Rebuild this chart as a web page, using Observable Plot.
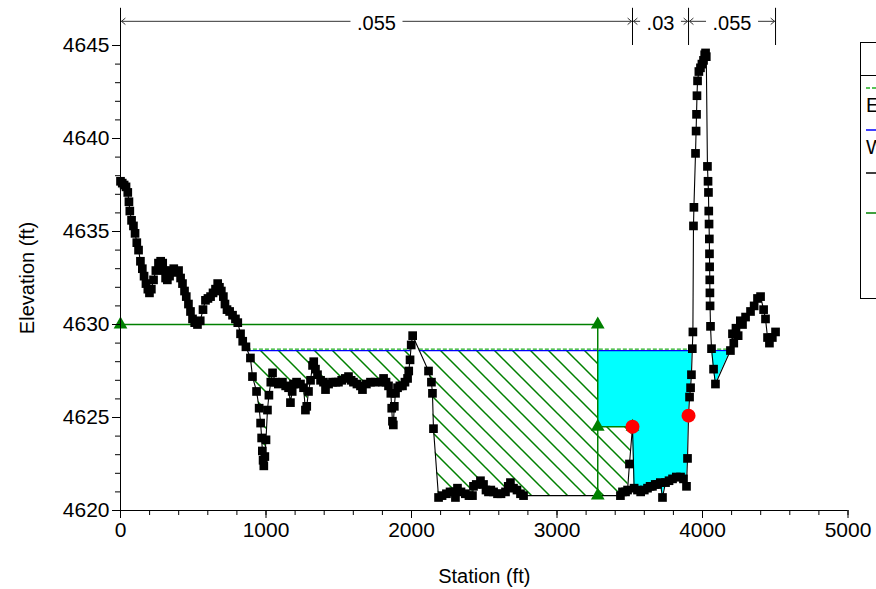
<!DOCTYPE html>
<html><head><meta charset="utf-8">
<script src="https://cdn.jsdelivr.net/npm/d3@7"></script>
<script src="https://cdn.jsdelivr.net/npm/@observablehq/plot@0.6"></script>
<style>
html,body{margin:0;padding:0;background:#fff;overflow:hidden;width:876px;height:589px}
#wrap{position:relative;width:876px;height:589px}
#legend{position:absolute;left:860px;top:0;width:16px;height:589px;overflow:hidden}
</style></head><body><div id="wrap"></div>
<script>
// Ground profile (station ft, elevation ft)
const groundStation = [0,12,25,38,50,58,64,76,89,100,112,124,137,150,162,175,188,199,212,227,243,261,276,290,300,310,322,337,352,366,382,399,413,426,440,452,467,481,495,510,529,548,567,584,601,619,636,653,668,680,693,707,718,732,750,770,790,806,825,840,862,893,907,935,953,963,970,975,980,985,992,1000,1010,1020,1033,1045,1065,1085,1113,1135,1155,1168,1180,1189,1210,1237,1258,1271,1280,1292,1306,1320,1328,1340,1354,1375,1395,1409,1430,1457,1480,1498,1520,1545,1567,1585,1601,1625,1649,1663,1690,1718,1750,1801,1808,1825,1842,1858,1864,1869,1875,1882,1890,1904,1920,1938,1955,1973,1981,1990,1998,2008,2117,2137,2144,2151,2186,2210,2240,2265,2289,2302,2316,2340,2370,2395,2419,2426,2445,2474,2495,2512,2529,2545,2564,2591,2615,2646,2665,2680,2701,2725,2749,2770,3436,3450,3471,3485,3498,3519,3530,3553,3575,3600,3622,3640,3656,3675,3691,3710,3725,3746,3770,3794,3820,3849,3869,3890,3897,3904,3911,3918,3924,3930,3934,3938,3941,3952,3956,3959,3962,3966,3975,3986,3996,4007,4015,4021,4026,4034,4038,4041,4043,4045,4047,4048,4049,4050,4051,4052,4055,4062,4076,4089,4192,4206,4215,4230,4245,4260,4275,4296,4330,4355,4378,4399,4420,4433,4447,4460,4480,4502];
const groundElev = [4637.7,4637.6,4637.5,4637.4,4637.1,4636.6,4636.1,4635.6,4635.3,4634.9,4634.4,4634.0,4633.4,4633.0,4632.6,4632.2,4631.9,4631.7,4631.9,4632.4,4632.9,4633.3,4633.4,4633.3,4632.9,4632.5,4632.4,4632.6,4632.9,4633.0,4632.8,4632.9,4632.5,4632.2,4631.8,4631.5,4631.1,4630.7,4630.3,4630.1,4630.0,4630.2,4630.8,4631.3,4631.4,4631.5,4631.7,4631.9,4632.2,4632.0,4631.8,4631.5,4631.1,4630.8,4630.7,4630.5,4630.3,4630.1,4629.5,4629.1,4628.8,4628.2,4627.2,4626.4,4625.5,4624.7,4623.9,4623.2,4622.7,4622.4,4622.9,4623.8,4625.4,4626.2,4626.9,4627.4,4626.9,4626.8,4626.9,4626.7,4626.6,4625.8,4626.4,4626.8,4626.9,4626.8,4626.6,4625.4,4625.6,4626.4,4627.0,4627.8,4628.0,4627.6,4627.3,4627.0,4626.9,4626.5,4626.8,4626.9,4626.9,4626.9,4627.0,4627.1,4627.2,4627.0,4626.9,4626.8,4626.7,4626.5,4626.8,4626.9,4626.9,4626.9,4627.1,4626.9,4626.7,4626.3,4625.5,4624.8,4624.6,4625.6,4626.3,4626.6,4626.7,4626.7,4626.9,4627.1,4627.5,4628.1,4628.9,4629.4,4627.5,4626.9,4626.3,4624.4,4620.7,4620.8,4620.9,4621.0,4621.0,4620.7,4621.2,4621.0,4620.9,4620.8,4620.8,4621.3,4621.4,4621.6,4621.4,4621.1,4621.0,4621.1,4621.0,4620.9,4620.9,4621.0,4621.3,4621.5,4621.2,4621.1,4620.9,4620.8,4620.8,4621.0,4621.0,4621.1,4622.5,4624.5,4621.2,4621.1,4621.0,4621.1,4621.2,4621.3,4621.3,4621.4,4621.4,4621.5,4620.7,4621.5,4621.6,4621.7,4621.8,4621.8,4621.7,4621.3,4622.8,4625.1,4626.1,4626.6,4627.3,4628.7,4629.6,4635.3,4636.3,4639.2,4640.4,4641.3,4642.3,4643.1,4643.6,4643.8,4644.0,4644.2,4644.5,4644.6,4644.4,4638.5,4637.7,4637.1,4636.1,4635.4,4634.6,4633.8,4633.1,4632.4,4631.7,4631.0,4629.9,4628.7,4627.6,4626.8,4628.6,4629.5,4629.0,4629.8,4629.4,4630.2,4630.0,4630.4,4630.7,4631.0,4631.4,4631.5,4630.8,4630.3,4629.3,4629.0,4629.3,4629.6];

// Water surface and energy grade
const wsElev = 4628.6;
const egElev = 4628.68;

// Bank stations
const bankStation = [3519, 3904];
const bankElev = [4624.5, 4625.1];

// Ineffective flow areas
const ineffStart = [0, 3280];
const ineffEnd = [3280, 3519];
const ineffElev = [4630, 4624.5];

// Manning's n
const nBreaks = [0, 3519, 3904, 4502];
const nValues = [".055", ".03", ".055"];
const nTopElev = 4647;
const nArrowElev = 4646.3;

// Ticks
const xMajor = [0, 1000, 2000, 3000, 4000, 5000];
const xMinor = d3.range(0, 5001, 200);
const yMajor = [4620, 4625, 4630, 4635, 4640, 4645];
const yMinor = d3.range(4620, 4646, 1);

const ground = groundStation.map((s, i) => ({x: s, y: groundElev[i]}));
function g(x) {
  for (let i = 1; i < groundStation.length; i++) {
    if (groundStation[i] >= x) {
      const x0 = groundStation[i-1], x1 = groundStation[i];
      const t = (x - x0) / (x1 - x0);
      return groundElev[i-1] + t * (groundElev[i] - groundElev[i-1]);
    }
  }
  return groundElev[groundElev.length - 1];
}
// wet bands between top and bottom functions over [a,b]
function bands(a, b, topFn, botFn) {
  const xs = [a, ...groundStation.filter(s => s > a && s < b), b];
  const pts = [];
  for (let i = 0; i < xs.length; i++) {
    const x = xs[i], d = topFn(x) - botFn(x);
    if (i > 0) {
      const xp = xs[i-1], dp = topFn(xp) - botFn(xp);
      if ((dp > 0 && d < 0) || (dp < 0 && d > 0)) {
        pts.push({x: xp + (x - xp) * dp / (dp - d), d: 0});
      }
    }
    pts.push({x, d});
  }
  const segs = []; let cur = [];
  for (const p of pts) {
    if (p.d > 1e-9) cur.push(p);
    else {
      const cross = p.d >= -1e-9;
      if (cross) cur.push(p);
      if (cur.length > 1) segs.push(cur);
      cur = cross ? [p] : [];
    }
  }
  if (cur.length > 1) segs.push(cur);
  const rows = [];
  segs.forEach((s, k) => s.forEach(p => rows.push({x: p.x, y2: topFn(p.x), y1: topFn(p.x) - Math.max(0, p.d), seg: k})));
  return {rows, segs: segs.map(s => ({x1: s[0].x, x2: s[s.length-1].x}))};
}
const ws = () => wsElev;
const hatchA = bands(0, ineffEnd[0], ws, g).rows;
const hatchB = bands(ineffStart[1], ineffEnd[1], () => ineffElev[1], g).rows;
const cyan = bands(ineffStart[1], nBreaks[3], ws, x => x <= ineffEnd[1] ? Math.max(g(x), ineffElev[1]) : g(x)).rows;
const wetSegs = bands(0, nBreaks[3], ws, g).segs;

const gAt = g(ineffEnd[0]);
const ineffLines = [
  {x1: ineffStart[0], y1: ineffElev[0], x2: ineffEnd[0], y2: ineffElev[0]},
  {x1: ineffEnd[0], y1: ineffElev[0], x2: ineffEnd[0], y2: gAt},
  {x1: ineffStart[1], y1: ineffElev[1], x2: ineffEnd[1], y2: ineffElev[1]}
];
const ineffPts = [
  {x: ineffStart[0], y: ineffElev[0]}, {x: ineffEnd[0], y: ineffElev[0]},
  {x: ineffStart[1], y: ineffElev[1]}, {x: ineffEnd[1], y: ineffElev[1]},
  {x: ineffEnd[0], y: gAt}
];
const banks = bankStation.map((s, i) => ({x: s, y: bankElev[i]}));
const nSpans = nValues.map((v, i) => ({a: nBreaks[i], b: nBreaks[i+1], m: (nBreaks[i] + nBreaks[i+1]) / 2, v}));
const arrowMarks = nSpans.flatMap(s => {
  const half = s.v.length * 5.6 + 4;
  return [
    Plot.arrow([s], {x1: "m", x2: "a", y1: () => nArrowElev, y2: () => nArrowElev, insetStart: half, insetEnd: 1, headLength: 7, headAngle: 80, stroke: "#333", strokeWidth: 1}),
    Plot.arrow([s], {x1: "m", x2: "b", y1: () => nArrowElev, y2: () => nArrowElev, insetStart: half, insetEnd: 1, headLength: 7, headAngle: 80, stroke: "#333", strokeWidth: 1})
  ];
});

const fmt = d => String(d);
const chart = Plot.plot({
  width: 876, height: 589,
  marginLeft: 120, marginRight: 28.5, marginTop: 45, marginBottom: 79,
  x: {domain: [0, 5000], label: null},
  y: {domain: [4620, 4645], label: null},
  style: {fontFamily: "'Liberation Sans', Arial, sans-serif", fontSize: "20px", color: "#000", background: "#fff", overflow: "visible"},
  marks: [
    Plot.areaY(hatchA, {x: "x", y1: "y1", y2: "y2", z: "seg", fill: "url(#hatch)"}),
    Plot.areaY(hatchB, {x: "x", y1: "y1", y2: "y2", z: "seg", fill: "url(#hatch)"}),
    Plot.areaY(cyan, {x: "x", y1: "y1", y2: "y2", z: "seg", fill: "#00ffff"}),
    Plot.ruleY(wetSegs, {x1: "x1", x2: "x2", y: () => wsElev, stroke: "#0000ff", strokeWidth: 1.2}),
    Plot.ruleY(wetSegs, {x1: "x1", x2: "x2", y: () => egElev, stroke: "#22b022", strokeWidth: 1.2, strokeDasharray: "4,2"}),
    Plot.link(ineffLines, {x1: "x1", y1: "y1", x2: "x2", y2: "y2", stroke: "#008000", strokeWidth: 1.5}),
    Plot.line(ground, {x: "x", y: "y", stroke: "#000", strokeWidth: 1.1}),
    Plot.dot(ground, {x: "x", y: "y", symbol: "square", r: 4.9, fill: "#000"}),
    Plot.dot(ineffPts, {x: "x", y: "y", symbol: "triangle", r: 5.1, fill: "#008000"}),
    Plot.dot(banks, {x: "x", y: "y", r: 7, fill: "#ff0000"}),
    Plot.ruleY([4620], {stroke: "#000"}),
    Plot.ruleX([0], {stroke: "#000"}),
    Plot.ruleX(nBreaks, {x: d => d, y1: () => 4645, y2: () => nTopElev, stroke: "#000"}),
    ...arrowMarks,
    Plot.text(nSpans, {x: "m", y: () => nArrowElev, text: "v", fontSize: 20, dy: 2}),
    Plot.axisX(xMinor, {tickSize: 5, tickFormat: () => "", fill: "none"}),
    Plot.axisX(xMajor, {tickSize: 8, tickPadding: 4, tickFormat: fmt, fontSize: 21, label: null}),
    Plot.axisY(yMinor, {tickSize: 5, tickFormat: () => "", fill: "none"}),
    Plot.axisY(yMajor, {tickSize: 8, tickPadding: 3, tickFormat: fmt, fontSize: 21, label: null}),
    Plot.text(["Elevation (ft)"], {frameAnchor: "left", dx: -93, rotate: -90, textAnchor: "middle", lineAnchor: "middle", fontSize: 20}),
    Plot.text(["Station (ft)"], {frameAnchor: "bottom", dy: 66, textAnchor: "middle", lineAnchor: "middle", fontSize: 20})
  ]
});
const defs = d3.select(chart).insert("defs", ":first-child");
const pat = defs.append("pattern").attr("id", "hatch").attr("patternUnits", "userSpaceOnUse").attr("width", 18).attr("height", 18);
pat.append("path").attr("d", "M0,0L18,18M-9,9L9,27M9,-9L27,9").attr("stroke", "#008000").attr("stroke-width", 1.5).attr("fill", "none");
document.getElementById("wrap").appendChild(chart);

// Legend (clipped at the right edge, as in the original)
const legendItems = [
  {label: "EG PF 1", stroke: "#22b022", dash: "4,2", y: 88},
  {label: "WS PF 1", stroke: "#0000ff", dash: null, y: 130},
  {label: "Ground", stroke: "#000", dash: null, y: 173},
  {label: "Ineff", stroke: "#008000", dash: null, y: 213}
];
const lg = d3.select("#wrap").append("svg").attr("id", "legend").attr("width", 16).attr("height", 589)
  .style("font-family", "'Liberation Sans', Arial, sans-serif").style("font-size", "20px");
lg.append("rect").attr("x", 0.5).attr("y", 42.5).attr("width", 200).attr("height", 256).attr("fill", "#fff").attr("stroke", "#000");
lg.append("line").attr("x1", 0).attr("x2", 200).attr("y1", 75.5).attr("y2", 75.5).attr("stroke", "#000");
legendItems.forEach((d, i) => {
  lg.append("line").attr("x1", 6).attr("x2", 40).attr("y1", d.y).attr("y2", d.y).attr("stroke", d.stroke).attr("stroke-width", 1.5).attr("stroke-dasharray", d.dash);
  if (i < 2) lg.append("text").attr("x", 6).attr("y", d.y + 17).attr("dy", "0.35em").text(d.label);
});
</script></body></html>
